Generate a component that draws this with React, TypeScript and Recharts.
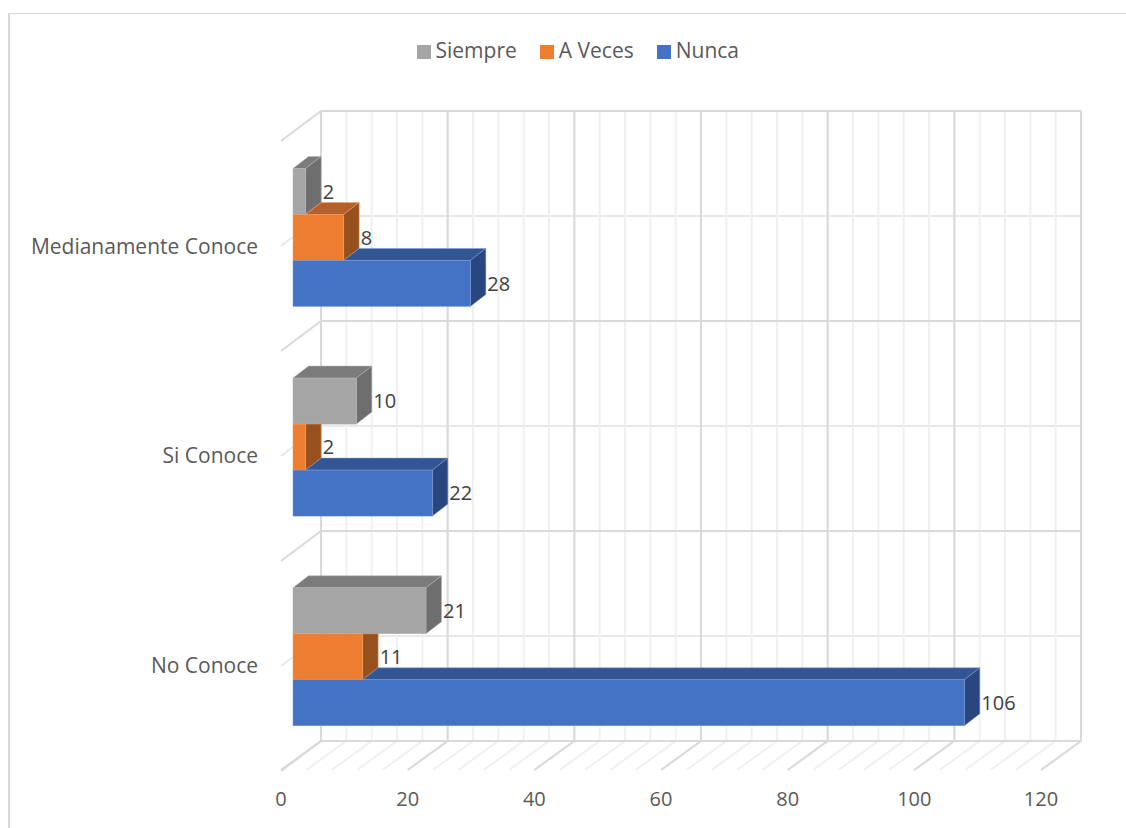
import { BarChart, Bar, XAxis, YAxis, CartesianGrid, LabelList, Legend } from "recharts";

const categorias = ["No Conoce", "Si Conoce", "Medianamente Conoce"];
const nunca = [106, 22, 28];
const aVeces = [11, 2, 8];
const siempre = [21, 10, 2];

const ticksMayores = [0, 20, 40, 60, 80, 100, 120];
const ticksMenores = [
  0, 4, 8, 12, 16, 20, 24, 28, 32, 36, 40, 44, 48, 52, 56, 60, 64, 68, 72, 76, 80, 84, 88, 92, 96, 100, 104, 108, 112,
  116, 120,
];

const data = categorias.map((nombre, i) => ({
  nombre,
  Siempre: siempre[i],
  "A Veces": aVeces[i],
  Nunca: nunca[i],
}));

// depth of the fake 3D: bars and back wall
const PROF_X = 15.5;
const PROF_Y = 12;
const PARED_X = 28;
const PARED_Y = -21;

const GRIS_MAYOR = "#d9d9d9";
const GRIS_MENOR = "#f0f0f0";

const lineaV = (color: string) => (p: any) => (
  <g key={p.key ?? p.x1}>
    <line x1={p.x1 + PARED_X} x2={p.x1 + PARED_X} y1={111} y2={741} stroke={color} strokeWidth={2} />
    <line x1={p.x1 + PARED_X} x2={p.x1 + PARED_X - 40} y1={741} y2={770} stroke={color} strokeWidth={2} />
  </g>
);

const lineaH = (color: string) => (p: any) => (
  <g key={p.key ?? p.y1}>
    <line x1={p.x1 + PARED_X} x2={p.x2 + PARED_X} y1={p.y1 + PARED_Y} y2={p.y1 + PARED_Y} stroke={color} strokeWidth={2} />
    <line x1={p.x1 + PARED_X} x2={p.x1 + PARED_X - 40} y1={p.y1 + PARED_Y} y2={p.y1 + PARED_Y + 30} stroke={color} strokeWidth={2} />
  </g>
);

// the bar above sits in front of this one's depth faces, so they get trimmed against it
const caja3d = (clave: string, arriba: string | null, tapa: string, lado: string, borde: string) => (props: any) => {
  const { x, y, width, height, fill, payload } = props;
  const porUnidad = width / payload[clave];
  const wArriba = arriba ? payload[arriba] * porUnidad : 0;
  const r = x + width;
  const tapaVisible = width > wArriba;
  const ladoTapado = wArriba >= width + PROF_X;
  const xt = x + wArriba;
  const tapaPts = `${xt},${y} ${xt + PROF_X},${y - PROF_Y} ${r + PROF_X},${y - PROF_Y} ${r},${y}`;
  const yLado = ladoTapado ? y : y - PROF_Y;
  const ladoPts = `${r},${y} ${r + PROF_X},${yLado} ${r + PROF_X},${y + height - PROF_Y} ${r},${y + height}`;
  return (
    <g>
      {tapaVisible && <polygon points={tapaPts} fill={tapa} stroke={borde} strokeWidth={0.5} />}
      <polygon points={ladoPts} fill={lado} stroke={borde} strokeWidth={0.5} />
      <rect x={x} y={y} width={width} height={height} fill={fill} stroke={borde} strokeWidth={0.5} />
    </g>
  );
};

const ordenLeyenda = ["Siempre", "A Veces", "Nunca"];

export default function App() {
  return (
    <div style={{ position: "absolute", left: 0, top: 0, width: 1126, height: 828, overflow: "hidden", background: "#fff" }}>
      <div
        style={{
          position: "absolute",
          left: 8,
          top: 13,
          right: 0,
          bottom: 0,
          borderLeft: "2px solid #d9d9d9",
          borderTop: "1px solid #d9d9d9",
        }}
      />
      <BarChart
        width={1126}
        height={828}
        layout="vertical"
        data={data}
        barCategoryGap="16.9%"
        barGap={0}
        margin={{ top: 105, right: 73, left: 0, bottom: 0 }}
        style={{ fontFamily: "'Open Sans', sans-serif" }}
      >
        <CartesianGrid
          verticalValues={ticksMenores}
          vertical={lineaV(GRIS_MENOR)}
          horizontalPoints={[237, 447, 657]}
          horizontal={lineaH("#e8e8e8")}
        />
        <CartesianGrid
          verticalValues={ticksMayores}
          vertical={lineaV(GRIS_MAYOR)}
          horizontalPoints={[132, 342, 552, 762]}
          horizontal={lineaH(GRIS_MAYOR)}
        />
        <XAxis
          type="number"
          domain={[0, 120]}
          ticks={ticksMayores}
          interval={0}
          height={66}
          axisLine={false}
          tickLine={false}
          tickSize={0}
          tickMargin={30}
          tick={{ fill: "#595959", fontSize: 20, dx: -12 }}
        />
        <YAxis
          type="category"
          dataKey="nombre"
          reversed
          width={293}
          interval={0}
          axisLine={false}
          tickLine={false}
          tickSize={0}
          tickMargin={35}
          tick={{ fill: "#595959", fontSize: 21, dy: 8.5 }}
        />
        <Legend
          verticalAlign="top"
          align="left"
          iconType="square"
          iconSize={14}
          itemSorter={(item: any) => ordenLeyenda.indexOf(item.value)}
          wrapperStyle={{ left: 416.5, top: 36, width: 400, fontSize: 21 }}
          formatter={(v: string) => <span style={{ color: "#595959", marginLeft: 1, marginRight: 13 }}>{v}</span>}
        />
        <Bar dataKey="Siempre" fill="#a5a5a5" isAnimationActive={false} shape={caja3d("Siempre", null, "#7b7b7b", "#6e6e6e", "#b4b4b4")}>
          <LabelList dataKey="Siempre" position="right" offset={17} fill="#404040" fontSize={20} />
        </Bar>
        <Bar dataKey="A Veces" fill="#ed7d31" isAnimationActive={false} shape={caja3d("A Veces", "Siempre", "#b5602a", "#97511f", "#f09a60")}>
          <LabelList dataKey="A Veces" position="right" offset={17} fill="#404040" fontSize={20} />
        </Bar>
        <Bar dataKey="Nunca" fill="#4472c4" isAnimationActive={false} shape={caja3d("Nunca", "A Veces", "#325594", "#2a4680", "#7c9bd6")}>
          <LabelList dataKey="Nunca" position="right" offset={17} fill="#404040" fontSize={20} />
        </Bar>
      </BarChart>
    </div>
  );
}
